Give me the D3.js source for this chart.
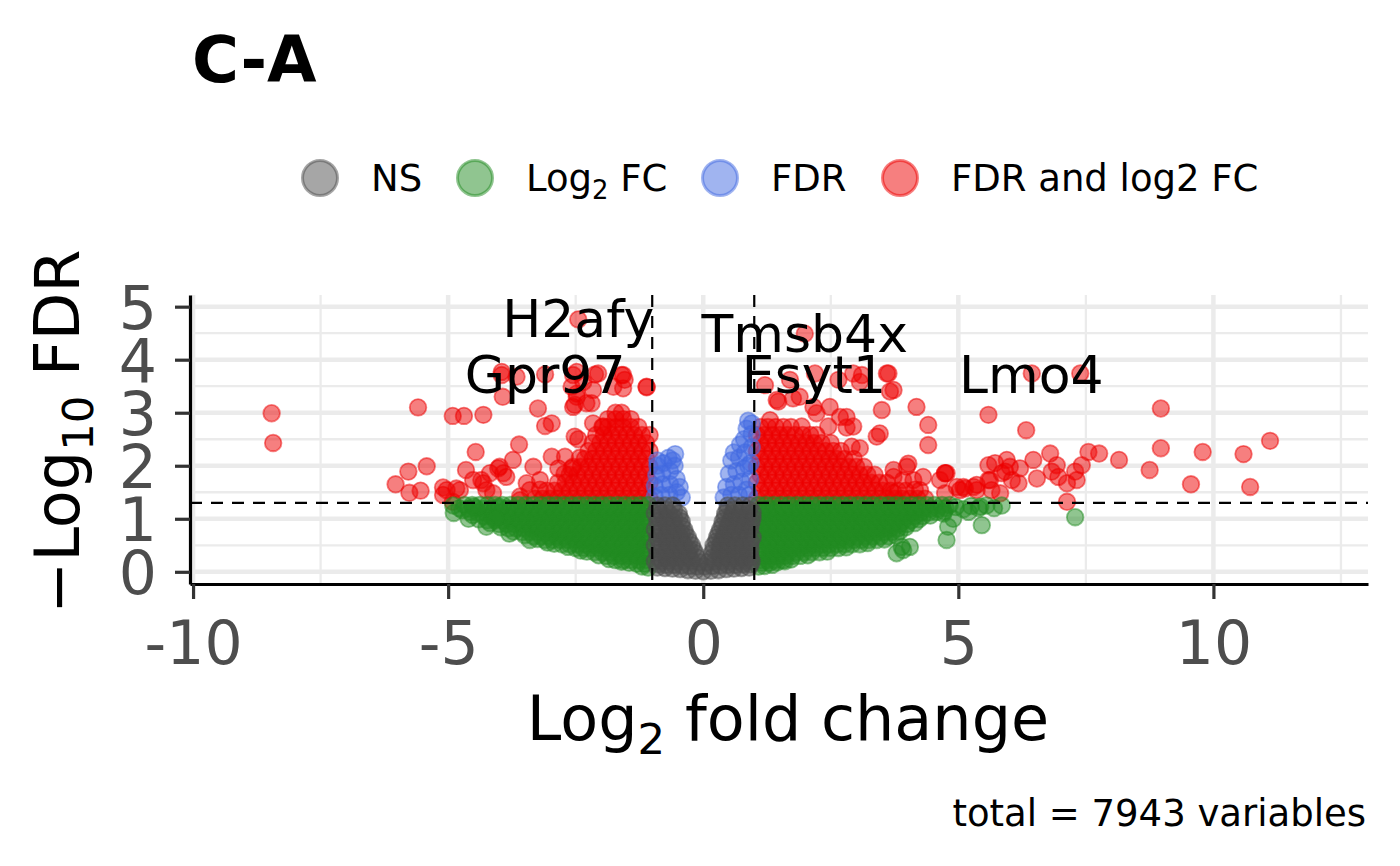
<!DOCTYPE html>
<html>
<head>
<meta charset="utf-8">
<script src="https://cdn.jsdelivr.net/npm/d3@7"></script>
<style>
  body { margin: 0; background: #fff; }
  text { font-family: "DejaVu Sans", sans-serif; }
</style>
</head>
<body>
<div id="chart"></div>
<script>
// volcano plot, C-A comparison
const width = 1400;
const height = 866;

const xTicks = [-10, -5, 0, 5, 10];
const yTicks = [0, 1, 2, 3, 4, 5];
const xMinor = [-7.5, -2.5, 2.5, 7.5, 12.5];
const yMinor = [0.5, 1.5, 2.5, 3.5, 4.5];
const fcCutoff = [-1, 1];
const fdrCutoff = 1.301;
const totalVariables = 7943;

const legendLabels = [
  [{t: "NS"}],
  [{t: "Log"}, {t: "2", sub: true}, {t: " FC"}],
  [{t: "FDR"}],
  [{t: "FDR and log2 FC"}]
];

// gene labels sit on their own points
const geneLabels = [
  {gene: "H2afy", x: -2.45, y: 4.76},
  {gene: "Gpr97", x: -3.10, y: 3.72},
  {gene: "Tmsb4x", x: 1.99, y: 4.49},
  {gene: "Esyt1", x: 2.17, y: 3.72},
  {gene: "Lmo4", x: 6.43, y: 3.72}
];

// NS : |log2FC| < 1 and FDR not significant
const nsPoints = [
  [-0.9,0.08],[-0.75,0.07],[-0.6,0.06],[-0.45,0.05],[-0.3,0.03],[-0.15,0.02],[0,0.01],[0.15,0.02],[0.3,0.03],[0.45,0.05],[0.6,0.06],[0.75,0.07],[0.9,0.08],
  [-0.87,0.14],[-0.72,0.13],[-0.57,0.13],[-0.42,0.12],[-0.27,0.11],[-0.12,0.1],[0.03,0.1],[0.18,0.11],[0.33,0.12],[0.48,0.13],[0.63,0.13],[0.78,0.14],[0.93,0.14],
  [-0.95,0.2],[-0.82,0.2],[-0.67,0.2],[-0.52,0.2],[-0.37,0.2],[-0.22,0.2],[-0.07,0.18],[0.08,0.18],[0.22,0.2],[0.37,0.2],[0.52,0.2],[0.67,0.2],[0.82,0.2],[0.95,0.2],
  [-0.87,0.27],[-0.72,0.27],[-0.57,0.27],[-0.42,0.27],[-0.27,0.27],[-0.12,0.27],[0.18,0.27],[0.33,0.27],[0.48,0.27],[0.63,0.27],[0.78,0.27],[0.93,0.27],
  [-0.9,0.35],[-0.75,0.35],[-0.6,0.35],[-0.45,0.35],[-0.3,0.35],[-0.15,0.35],[0.17,0.35],[0.3,0.35],[0.45,0.35],[0.6,0.35],[0.75,0.35],[0.9,0.35],
  [-0.87,0.42],[-0.72,0.42],[-0.57,0.42],[-0.42,0.42],[-0.27,0.42],[-0.19,0.42],[0.2,0.42],[0.33,0.42],[0.48,0.42],[0.63,0.42],[0.78,0.42],[0.93,0.42],
  [-0.95,0.5],[-0.82,0.5],[-0.67,0.5],[-0.52,0.5],[-0.37,0.5],[-0.22,0.5],[0.2,0.5],[0.33,0.5],[0.47,0.5],[0.62,0.5],[0.77,0.5],[0.92,0.5],
  [-0.87,0.57],[-0.72,0.57],[-0.57,0.57],[-0.42,0.57],[-0.27,0.57],[0.25,0.57],[0.36,0.57],[0.48,0.57],[0.63,0.57],[0.78,0.57],[0.93,0.57],
  [-0.9,0.65],[-0.75,0.65],[-0.6,0.65],[-0.45,0.65],[-0.3,0.65],[0.27,0.65],[0.4,0.65],[0.55,0.65],[0.7,0.65],[0.85,0.65],[0.97,0.65],
  [-0.87,0.72],[-0.72,0.72],[-0.57,0.72],[-0.42,0.72],[-0.35,0.72],[0.3,0.72],[0.42,0.72],[0.57,0.72],[0.72,0.72],[0.87,0.72],
  [-0.95,0.8],[-0.82,0.8],[-0.67,0.8],[-0.52,0.8],[-0.37,0.8],[0.33,0.8],[0.47,0.8],[0.62,0.8],[0.77,0.8],[0.92,0.8],
  [-0.87,0.87],[-0.72,0.87],[-0.57,0.87],[-0.42,0.87],[0.37,0.87],[0.48,0.87],[0.63,0.87],[0.78,0.87],[0.93,0.87],
  [-0.9,0.95],[-0.75,0.95],[-0.6,0.95],[-0.42,0.95],[0.38,0.95],[0.52,0.95],[0.67,0.95],[0.82,0.95],[0.95,0.95],
  [-0.87,1.02],[-0.72,1.02],[-0.57,1.02],[-0.46,1.02],[0.42,1.02],[0.55,1.02],[0.7,1.02],[0.85,1.02],[0.97,1.02],
  [-0.95,1.1],[-0.82,1.1],[-0.67,1.1],[-0.48,1.1],[0.43,1.1],[0.57,1.1],[0.72,1.1],[0.87,1.1],[0.97,1.12],
  [-0.87,1.17],[-0.72,1.17],[-0.57,1.17],[0.47,1.17],[0.6,1.17],[0.75,1.17],[0.9,1.17],
  [-0.9,1.25],[-0.75,1.25],[-0.6,1.25],[0.48,1.25],[0.62,1.25],[0.77,1.25],[0.92,1.25]
];

// Log2 FC only
const log2fcPoints = [
  // left band
  [-1.08,0.08],[-1.2,0.1],
  [-1.15,0.15],[-1.3,0.15],[-1.45,0.17],[-1.6,0.19],
  [-1.12,0.22],[-1.27,0.22],[-1.42,0.22],[-1.57,0.22],[-1.72,0.22],[-1.85,0.24],
  [-1.15,0.3],[-1.3,0.3],[-1.45,0.3],[-1.6,0.3],[-1.75,0.3],[-1.9,0.3],[-2.05,0.31],
  [-1.08,0.37],[-1.23,0.37],[-1.38,0.37],[-1.53,0.37],[-1.68,0.37],[-1.83,0.37],[-1.98,0.37],[-2.13,0.37],[-2.28,0.38],[-2.4,0.4],
  [-1.15,0.45],[-1.3,0.45],[-1.45,0.45],[-1.6,0.45],[-1.75,0.45],[-1.9,0.45],[-2.05,0.45],[-2.2,0.45],[-2.35,0.45],[-2.5,0.45],[-2.65,0.47],
  [-1.12,0.52],[-1.27,0.52],[-1.42,0.52],[-1.57,0.52],[-1.72,0.52],[-1.87,0.52],[-2.02,0.52],[-2.17,0.52],[-2.32,0.52],[-2.47,0.52],[-2.62,0.52],[-2.77,0.52],[-2.92,0.53],[-3.05,0.55],
  [-1.15,0.6],[-1.3,0.6],[-1.45,0.6],[-1.6,0.6],[-1.75,0.6],[-1.9,0.6],[-2.05,0.6],[-2.2,0.6],[-2.35,0.6],[-2.5,0.6],[-2.65,0.6],[-2.8,0.6],[-2.95,0.6],[-3.1,0.6],[-3.25,0.62],
  [-1.08,0.67],[-1.23,0.67],[-1.38,0.67],[-1.53,0.67],[-1.68,0.67],[-1.83,0.67],[-1.98,0.67],[-2.13,0.67],[-2.28,0.67],[-2.43,0.67],[-2.58,0.67],[-2.73,0.67],[-2.88,0.67],[-3.03,0.67],[-3.18,0.67],[-3.33,0.67],[-3.5,0.69],
  [-1.15,0.75],[-1.3,0.75],[-1.45,0.75],[-1.6,0.75],[-1.75,0.75],[-1.9,0.75],[-2.05,0.75],[-2.2,0.75],[-2.35,0.75],[-2.5,0.75],[-2.65,0.75],[-2.8,0.75],[-2.95,0.75],[-3.1,0.75],[-3.25,0.75],[-3.4,0.75],[-3.55,0.75],[-3.72,0.76],
  [-1.12,0.82],[-1.27,0.82],[-1.42,0.82],[-1.57,0.82],[-1.72,0.82],[-1.87,0.82],[-2.02,0.82],[-2.17,0.82],[-2.32,0.82],[-2.47,0.82],[-2.62,0.82],[-2.77,0.82],[-2.92,0.82],[-3.07,0.82],[-3.22,0.82],[-3.37,0.82],[-3.52,0.82],[-3.67,0.82],[-3.82,0.82],[-3.97,0.84],
  [-1.15,0.9],[-1.3,0.9],[-1.45,0.9],[-1.6,0.9],[-1.75,0.9],[-1.9,0.9],[-2.05,0.9],[-2.2,0.9],[-2.35,0.9],[-2.5,0.9],[-2.65,0.9],[-2.8,0.9],[-2.95,0.9],[-3.1,0.9],[-3.25,0.9],[-3.4,0.9],[-3.55,0.9],[-3.7,0.9],[-3.85,0.9],[-4.0,0.9],[-4.18,0.92],
  [-1.08,0.97],[-1.23,0.97],[-1.38,0.97],[-1.53,0.97],[-1.68,0.97],[-1.83,0.97],[-1.98,0.97],[-2.13,0.97],[-2.28,0.97],[-2.43,0.97],[-2.58,0.97],[-2.73,0.97],[-2.88,0.97],[-3.03,0.97],[-3.18,0.97],[-3.33,0.97],[-3.48,0.97],[-3.63,0.97],[-3.78,0.97],[-3.93,0.97],[-4.08,0.97],[-4.23,0.97],[-4.4,0.99],
  [-1.15,1.05],[-1.3,1.05],[-1.45,1.05],[-1.6,1.05],[-1.75,1.05],[-1.9,1.05],[-2.05,1.05],[-2.2,1.05],[-2.35,1.05],[-2.5,1.05],[-2.65,1.05],[-2.8,1.05],[-2.95,1.05],[-3.1,1.05],[-3.25,1.05],[-3.4,1.05],[-3.55,1.05],[-3.7,1.05],[-3.85,1.05],[-4.0,1.05],[-4.15,1.05],[-4.3,1.05],[-4.52,1.07],
  [-1.12,1.12],[-1.27,1.12],[-1.42,1.12],[-1.57,1.12],[-1.72,1.12],[-1.87,1.12],[-2.02,1.12],[-2.17,1.12],[-2.32,1.12],[-2.47,1.12],[-2.62,1.12],[-2.77,1.12],[-2.92,1.12],[-3.07,1.12],[-3.22,1.12],[-3.37,1.12],[-3.52,1.12],[-3.67,1.12],[-3.82,1.12],[-3.97,1.12],[-4.12,1.12],[-4.27,1.12],[-4.42,1.12],[-4.57,1.13],[-4.72,1.16],
  [-1.15,1.19],[-1.3,1.19],[-1.45,1.19],[-1.6,1.19],[-1.75,1.19],[-1.9,1.19],[-2.05,1.19],[-2.2,1.19],[-2.35,1.19],[-2.5,1.19],[-2.65,1.19],[-2.8,1.19],[-2.95,1.19],[-3.1,1.19],[-3.25,1.19],[-3.4,1.19],[-3.55,1.19],[-3.7,1.19],[-3.85,1.19],[-4.0,1.19],[-4.15,1.19],[-4.3,1.19],[-4.45,1.19],[-4.6,1.19],[-4.78,1.2],
  [-1.08,1.26],[-1.23,1.26],[-1.38,1.26],[-1.53,1.26],[-1.68,1.26],[-1.83,1.26],[-1.98,1.26],[-2.13,1.26],[-2.28,1.26],[-2.43,1.26],[-2.58,1.26],[-2.73,1.26],[-2.88,1.26],[-3.03,1.26],[-3.18,1.26],[-3.33,1.26],[-3.48,1.26],[-3.63,1.26],[-3.78,1.26],[-3.93,1.26],[-4.08,1.26],[-4.23,1.26],[-4.38,1.26],[-4.53,1.26],[-4.68,1.26],
  [-4.89,1.11],[-4.9,1.25],[-4.5,1.23],[-4.0,1.23],[-4.08,1.01],[-4.25,0.85],[-3.8,0.72],[-3.4,0.6],[-4.6,1.0],
  // right band
  [1.08,0.1],[1.2,0.11],[1.35,0.13],
  [1.15,0.17],[1.3,0.17],[1.45,0.18],[1.6,0.2],
  [1.12,0.22],[1.27,0.22],[1.42,0.22],[1.57,0.22],[1.72,0.23],
  [1.15,0.3],[1.3,0.3],[1.45,0.3],[1.6,0.3],[1.75,0.3],[1.9,0.3],[2.05,0.31],
  [1.08,0.37],[1.23,0.37],[1.38,0.37],[1.53,0.37],[1.68,0.37],[1.83,0.37],[1.98,0.37],[2.13,0.37],[2.28,0.37],[2.43,0.38],
  [1.15,0.45],[1.3,0.45],[1.45,0.45],[1.6,0.45],[1.75,0.45],[1.9,0.45],[2.05,0.45],[2.2,0.45],[2.35,0.45],[2.5,0.45],[2.65,0.45],[2.8,0.46],
  [1.12,0.52],[1.27,0.52],[1.42,0.52],[1.57,0.52],[1.72,0.52],[1.87,0.52],[2.02,0.52],[2.17,0.52],[2.32,0.52],[2.47,0.52],[2.62,0.52],[2.77,0.52],[2.92,0.52],[3.07,0.52],[3.22,0.54],
  [1.15,0.6],[1.3,0.6],[1.45,0.6],[1.6,0.6],[1.75,0.6],[1.9,0.6],[2.05,0.6],[2.2,0.6],[2.35,0.6],[2.5,0.6],[2.65,0.6],[2.8,0.6],[2.95,0.6],[3.1,0.6],[3.25,0.6],[3.4,0.6],[3.55,0.61],
  [1.08,0.67],[1.23,0.67],[1.38,0.67],[1.53,0.67],[1.68,0.67],[1.83,0.67],[1.98,0.67],[2.13,0.67],[2.28,0.67],[2.43,0.67],[2.58,0.67],[2.73,0.67],[2.88,0.67],[3.03,0.67],[3.18,0.67],[3.33,0.67],[3.48,0.67],[3.63,0.67],[3.78,0.68],
  [1.15,0.75],[1.3,0.75],[1.45,0.75],[1.6,0.75],[1.75,0.75],[1.9,0.75],[2.05,0.75],[2.2,0.75],[2.35,0.75],[2.5,0.75],[2.65,0.75],[2.8,0.75],[2.95,0.75],[3.1,0.75],[3.25,0.75],[3.4,0.75],[3.55,0.75],[3.7,0.75],[3.85,0.76],
  [1.12,0.82],[1.27,0.82],[1.42,0.82],[1.57,0.82],[1.72,0.82],[1.87,0.82],[2.02,0.82],[2.17,0.82],[2.32,0.82],[2.47,0.82],[2.62,0.82],[2.77,0.82],[2.92,0.82],[3.07,0.82],[3.22,0.82],[3.37,0.82],[3.52,0.82],[3.67,0.82],[3.82,0.82],[3.97,0.84],
  [1.15,0.9],[1.3,0.9],[1.45,0.9],[1.6,0.9],[1.75,0.9],[1.9,0.9],[2.05,0.9],[2.2,0.9],[2.35,0.9],[2.5,0.9],[2.65,0.9],[2.8,0.9],[2.95,0.9],[3.1,0.9],[3.25,0.9],[3.4,0.9],[3.55,0.9],[3.7,0.9],[3.85,0.9],[4.0,0.9],[4.15,0.92],
  [1.08,0.97],[1.23,0.97],[1.38,0.97],[1.53,0.97],[1.68,0.97],[1.83,0.97],[1.98,0.97],[2.13,0.97],[2.28,0.97],[2.43,0.97],[2.58,0.97],[2.73,0.97],[2.88,0.97],[3.03,0.97],[3.18,0.97],[3.33,0.97],[3.48,0.97],[3.63,0.97],[3.78,0.97],[3.93,0.97],[4.08,0.97],[4.23,0.99],
  [1.15,1.05],[1.3,1.05],[1.45,1.05],[1.6,1.05],[1.75,1.05],[1.9,1.05],[2.05,1.05],[2.2,1.05],[2.35,1.05],[2.5,1.05],[2.65,1.05],[2.8,1.05],[2.95,1.05],[3.1,1.05],[3.25,1.05],[3.4,1.05],[3.55,1.05],[3.7,1.05],[3.85,1.05],[4.0,1.05],[4.15,1.05],[4.3,1.05],[4.45,1.06],
  [1.12,1.12],[1.27,1.12],[1.42,1.12],[1.57,1.12],[1.72,1.12],[1.87,1.12],[2.02,1.12],[2.17,1.12],[2.32,1.12],[2.47,1.12],[2.62,1.12],[2.77,1.12],[2.92,1.12],[3.07,1.12],[3.22,1.12],[3.37,1.12],[3.52,1.12],[3.67,1.12],[3.82,1.12],[3.97,1.12],[4.12,1.12],[4.27,1.12],[4.42,1.12],[4.57,1.13],[4.72,1.14],
  [1.15,1.19],[1.3,1.19],[1.45,1.19],[1.6,1.19],[1.75,1.19],[1.9,1.19],[2.05,1.19],[2.2,1.19],[2.35,1.19],[2.5,1.19],[2.65,1.19],[2.8,1.19],[2.95,1.19],[3.1,1.19],[3.25,1.19],[3.4,1.19],[3.55,1.19],[3.7,1.19],[3.85,1.19],[4.0,1.19],[4.15,1.19],[4.3,1.19],[4.45,1.19],[4.6,1.19],[4.75,1.2],
  [1.08,1.26],[1.23,1.26],[1.38,1.26],[1.53,1.26],[1.68,1.26],[1.83,1.26],[1.98,1.26],[2.13,1.26],[2.28,1.26],[2.43,1.26],[2.58,1.26],[2.73,1.26],[2.88,1.26],[3.03,1.26],[3.18,1.26],[3.33,1.26],[3.48,1.26],[3.63,1.26],[3.78,1.26],[3.93,1.26],[4.08,1.26],[4.23,1.26],[4.38,1.26],[4.53,1.26],[4.68,1.26],[4.83,1.26],
  [4.95,1.22],[5.1,1.18],[5.25,1.24],[5.4,1.2],[5.55,1.25],[5.7,1.2],[5.2,1.13],[5.46,0.88],[4.8,0.85],[4.77,0.6],[3.89,0.47],[4.05,0.47],[3.79,0.35],[3.92,0.41],
  [7.29,1.03],[4.71,1.1],[4.9,1.0],[5.85,1.25],[5.43,1.23]
];

// FDR only
const fdrPoints = [
  [-0.95,1.42],[-0.95,1.62],[-0.92,1.82],[-0.9,2.0],[-0.82,1.45],[-0.8,1.65],[-0.8,1.85],[-0.78,2.05],[-0.68,2.15],[-0.66,1.45],
  [-0.65,1.65],[-0.65,1.9],[-0.55,2.22],[-0.56,2.0],[-0.52,1.75],[-0.52,1.5],[-0.46,1.6],[-0.42,1.4],[-0.6,2.1],[-0.9,2.1],
  [0.4,1.4],[0.45,1.6],[0.5,1.85],[0.55,2.1],[0.6,2.25],[0.55,1.45],[0.6,1.65],[0.65,1.9],[0.7,2.15],[0.72,2.4],
  [0.7,1.45],[0.75,1.7],[0.8,1.95],[0.82,2.25],[0.8,2.5],[0.85,2.7],[0.88,2.85],[0.95,2.8],[0.9,1.45],[0.92,1.75],
  [0.93,2.05],[0.95,2.35],[0.95,2.6],[0.85,1.55],[0.88,2.0]
];

// FDR and log2 FC
const bothPoints = [
  // left dense cluster
  [-1.05,1.38],[-1.2,1.38],[-1.35,1.38],[-1.5,1.38],[-1.65,1.38],[-1.8,1.38],[-1.95,1.38],[-2.1,1.38],[-2.25,1.38],[-2.4,1.38],[-2.55,1.38],[-2.7,1.38],[-2.85,1.38],[-3.0,1.38],[-3.15,1.38],[-3.3,1.38],
  [-1.12,1.53],[-1.27,1.53],[-1.42,1.53],[-1.57,1.53],[-1.72,1.53],[-1.87,1.53],[-2.02,1.53],[-2.17,1.53],[-2.32,1.53],[-2.47,1.53],[-2.62,1.53],[-2.77,1.53],[-2.92,1.53],[-3.07,1.53],[-3.2,1.55],
  [-1.05,1.68],[-1.2,1.68],[-1.35,1.68],[-1.5,1.68],[-1.65,1.68],[-1.8,1.68],[-1.95,1.68],[-2.1,1.68],[-2.25,1.68],[-2.4,1.68],[-2.55,1.68],[-2.7,1.68],[-2.85,1.68],
  [-1.12,1.83],[-1.27,1.83],[-1.42,1.83],[-1.57,1.83],[-1.72,1.83],[-1.87,1.83],[-2.02,1.83],[-2.17,1.83],[-2.32,1.83],[-2.47,1.83],[-2.62,1.83],[-2.72,1.85],
  [-1.05,1.98],[-1.2,1.98],[-1.35,1.98],[-1.5,1.98],[-1.65,1.98],[-1.8,1.98],[-1.95,1.98],[-2.1,1.98],[-2.25,1.98],[-2.4,1.98],[-2.55,1.98],
  [-1.12,2.13],[-1.27,2.13],[-1.42,2.13],[-1.57,2.13],[-1.72,2.13],[-1.87,2.13],[-2.02,2.13],[-2.17,2.13],[-2.32,2.13],[-2.42,2.15],
  [-1.05,2.28],[-1.2,2.28],[-1.35,2.28],[-1.5,2.28],[-1.65,2.28],[-1.8,2.28],[-1.95,2.28],[-2.1,2.28],[-2.25,2.28],
  [-1.12,2.43],[-1.27,2.43],[-1.42,2.43],[-1.57,2.43],[-1.72,2.43],[-1.87,2.43],[-2.02,2.43],[-2.17,2.43],
  [-1.05,2.58],[-1.2,2.58],[-1.35,2.58],[-1.5,2.58],[-1.65,2.58],[-1.8,2.58],[-1.95,2.58],[-2.1,2.58],
  [-1.27,2.73],[-1.42,2.73],[-1.57,2.73],[-1.72,2.73],[-1.87,2.73],[-1.98,2.73],
  [-1.42,2.88],[-1.57,2.88],[-1.72,2.88],[-1.87,2.88],
  [-1.6,3.0],[-1.72,3.0],
  // left scattered
  [-8.46,2.99],[-8.43,2.43],[-5.59,3.10],[-4.91,2.94],[-4.69,2.94],[-4.31,2.96],[-4.46,2.26],[-3.61,2.40],[-3.73,2.11],[-3.24,3.08],
  [-3.10,2.75],[-2.97,2.80],[-2.52,2.55],[-2.45,4.76],[-3.95,3.77],[-3.66,3.68],[-3.10,3.72],[-2.48,3.77],[-2.12,3.72],[-1.57,3.71],
  [-1.54,3.62],[-1.57,3.46],[-1.11,3.48],[-3.93,3.30],[-2.52,3.15],[-2.19,3.18],[-2.58,3.49],[-2.48,3.36],
  [-6.03,1.65],[-5.78,1.89],[-5.42,1.99],[-5.76,1.49],[-5.54,1.53],[-5.10,1.59],[-5.10,1.45],[-4.91,1.32],[-4.65,1.92],[-4.84,1.57],
  [-4.35,1.73],[-4.25,1.54],[-4.12,1.48],[-4.02,1.95],[-3.92,1.86],[-3.33,1.98],[-2.97,2.17],[-2.71,2.17],[-2.58,1.95],[-3.46,1.67],
  [-3.59,1.35],[-2.84,1.95],[-3.99,1.98],[-3.86,1.79],[-4.18,1.86],[-4.31,1.67],[-4.51,1.73],[-4.77,1.54],[-5.03,1.54],[-3.20,1.73],
  [-3.40,1.54],[-3.59,1.42],[-2.55,3.11],[-2.29,3.18],[-2.48,3.30],[-2.16,3.43],[-1.76,3.49],[-1.60,3.71],[-1.11,3.49],[-3.95,3.71],
  [-2.55,3.71],[-2.06,3.74],[-2.35,3.58],[-2.16,2.80],[-1.96,2.74],[-2.45,2.50],
  // right dense cluster
  [1.05,1.38],[1.2,1.38],[1.35,1.38],[1.5,1.38],[1.65,1.38],[1.8,1.38],[1.95,1.38],[2.1,1.38],[2.25,1.38],[2.4,1.38],[2.55,1.38],[2.7,1.38],[2.85,1.38],[3.0,1.38],[3.15,1.38],[3.3,1.38],[3.45,1.38],[3.6,1.38],[3.75,1.38],[3.9,1.38],[4.05,1.38],[4.2,1.38],[4.35,1.38],
  [1.12,1.53],[1.27,1.53],[1.42,1.53],[1.57,1.53],[1.72,1.53],[1.87,1.53],[2.02,1.53],[2.17,1.53],[2.32,1.53],[2.47,1.53],[2.62,1.53],[2.77,1.53],[2.92,1.53],[3.07,1.53],[3.22,1.53],[3.37,1.53],[3.52,1.53],[3.67,1.53],[3.82,1.53],[3.97,1.53],[4.15,1.55],
  [1.05,1.68],[1.2,1.68],[1.35,1.68],[1.5,1.68],[1.65,1.68],[1.8,1.68],[1.95,1.68],[2.1,1.68],[2.25,1.68],[2.4,1.68],[2.55,1.68],[2.7,1.68],[2.85,1.68],[3.0,1.68],[3.15,1.68],[3.3,1.68],[3.45,1.68],[3.6,1.68],
  [1.12,1.83],[1.27,1.83],[1.42,1.83],[1.57,1.83],[1.72,1.83],[1.87,1.83],[2.02,1.83],[2.17,1.83],[2.32,1.83],[2.47,1.83],[2.62,1.83],[2.77,1.83],[2.92,1.83],[3.07,1.83],[3.22,1.83],[3.36,1.83],
  [1.05,1.98],[1.2,1.98],[1.35,1.98],[1.5,1.98],[1.65,1.98],[1.8,1.98],[1.95,1.98],[2.1,1.98],[2.25,1.98],[2.4,1.98],[2.55,1.98],[2.7,1.98],[2.85,1.98],[3.0,1.98],[3.15,1.98],
  [1.12,2.13],[1.27,2.13],[1.42,2.13],[1.57,2.13],[1.72,2.13],[1.87,2.13],[2.02,2.13],[2.17,2.13],[2.32,2.13],[2.47,2.13],[2.62,2.13],[2.77,2.13],[2.95,2.13],
  [1.05,2.28],[1.2,2.28],[1.35,2.28],[1.5,2.28],[1.65,2.28],[1.8,2.28],[1.95,2.28],[2.1,2.28],[2.25,2.28],[2.4,2.28],[2.55,2.28],[2.7,2.28],
  [1.12,2.43],[1.27,2.43],[1.42,2.43],[1.57,2.43],[1.72,2.43],[1.87,2.43],[2.02,2.43],[2.17,2.43],[2.32,2.43],[2.5,2.43],
  [1.05,2.58],[1.2,2.58],[1.35,2.58],[1.5,2.58],[1.65,2.58],[1.8,2.58],[1.95,2.58],[2.1,2.58],[2.22,2.58],
  [1.12,2.73],[1.27,2.73],[1.42,2.73],[1.57,2.73],[1.72,2.73],
  // right scattered
  [1.99,4.49],[1.21,3.52],[1.47,3.21],[1.76,3.27],[2.19,3.74],[2.65,3.62],[2.94,3.74],[3.11,3.71],[3.07,3.58],[3.60,3.74],
  [3.66,3.40],[3.50,3.05],[3.46,2.61],[3.40,2.55],[4.18,3.11],[4.41,2.77],[4.41,2.39],[2.48,3.11],[2.22,2.99],[2.81,2.92],
  [2.94,2.74],[1.31,2.86],[1.93,2.74],[2.45,2.74],[2.91,2.36],[3.07,2.33],[3.73,1.92],[4.02,2.04],[4.74,1.86],[5.10,1.60],
  [5.30,1.60],[1.70,3.62],[1.89,3.30],[2.16,3.11],[2.68,2.92],[2.81,2.72],[3.63,3.74],[3.73,3.43],[1.44,3.24],
  [6.44,3.74],[7.39,3.74],[5.59,2.96],[6.33,2.67],[8.97,3.08],[8.97,2.33],[11.11,2.47],[9.79,2.26],[10.59,2.22],[10.72,1.60],
  [9.56,1.65],[8.75,1.92],[8.15,2.11],[7.76,2.23],[7.55,2.26],[7.42,2.01],[7.29,1.89],[7.32,1.73],[7.13,1.67],[7.13,1.32],
  [6.93,2.01],[6.80,2.23],[6.83,1.89],[6.96,1.79],[6.47,2.11],[6.54,1.76],[6.21,1.95],[6.18,1.67],[5.95,2.11],[5.92,1.89],
  [6.05,1.73],[5.72,2.05],[5.62,1.73],[5.59,2.01],[5.82,1.48],[5.65,1.54],[5.36,1.54],[5.13,1.57],[5.03,1.54],[4.77,1.86],
  [4.74,1.48],[3.73,1.79],[3.92,1.73],[4.12,1.73],[4.31,1.79],[4.64,1.73],[4.97,1.60],[5.36,1.64],[5.59,1.73],[5.85,1.86],
  [6.01,1.98],[3.99,1.98],[3.73,1.48],[4.25,1.54],[4.74,1.86]
];

const groups = [
  {name: "FDR and log2 FC", color: "#EE0000", points: bothPoints},
  {name: "FDR", color: "#4169E1", points: fdrPoints},
  {name: "Log2 FC", color: "#228B22", points: log2fcPoints},
  {name: "NS", color: "#4D4D4D", points: nsPoints}
];
const legendColors = ["#4D4D4D", "#228B22", "#4169E1", "#EE0000"];

// layout
const plotLeft = 190, plotRight = 1368, plotTop = 295, plotBottom = 584;

const svg = d3.select("#chart")
  .append("svg")
  .attr("width", width)
  .attr("height", height)
  .style("background", "#fff");

const x = d3.scaleLinear().domain([-10.06, 13.03]).range([plotLeft, plotRight]);
const y = d3.scaleLinear().domain([-0.23, 5.22]).range([plotBottom, plotTop]);

// subscript helper
function richText(sel, parts, size) {
  let shift = 0;
  parts.forEach(p => {
    const t = sel.append("tspan").text(p.t);
    if (p.sub) {
      t.attr("font-size", size * 0.7).attr("dy", size * 0.22);
      shift = size * 0.22;
    } else if (shift) {
      t.attr("dy", -shift);
      shift = 0;
    }
  });
}

// grid
const grid = svg.append("g");
grid.selectAll(".vminor").data(xMinor).enter().append("line")
  .attr("x1", d => x(d)).attr("x2", d => x(d))
  .attr("y1", plotTop).attr("y2", plotBottom)
  .attr("stroke", "#EBEBEB").attr("stroke-width", 2.3);
grid.selectAll(".hminor").data(yMinor).enter().append("line")
  .attr("y1", d => y(d)).attr("y2", d => y(d))
  .attr("x1", plotLeft).attr("x2", plotRight)
  .attr("stroke", "#EBEBEB").attr("stroke-width", 2.3);
grid.selectAll(".vmajor").data(xTicks).enter().append("line")
  .attr("x1", d => x(d)).attr("x2", d => x(d))
  .attr("y1", plotTop).attr("y2", plotBottom)
  .attr("stroke", "#EBEBEB").attr("stroke-width", 4.5);
grid.selectAll(".hmajor").data(yTicks).enter().append("line")
  .attr("y1", d => y(d)).attr("y2", d => y(d))
  .attr("x1", plotLeft).attr("x2", plotRight)
  .attr("stroke", "#EBEBEB").attr("stroke-width", 4.5);

// points
groups.forEach(g => {
  svg.append("g").selectAll("circle")
    .data(g.points)
    .enter()
    .append("circle")
    .attr("cx", d => x(d[0]))
    .attr("cy", d => y(d[1]))
    .attr("r", 8.3)
    .attr("fill", g.color)
    .attr("fill-opacity", 0.5)
    .attr("stroke", g.color)
    .attr("stroke-opacity", 0.5)
    .attr("stroke-width", 1.8);
});

// cutoff lines
svg.selectAll(".fcline").data(fcCutoff).enter().append("line")
  .attr("x1", d => x(d)).attr("x2", d => x(d))
  .attr("y1", plotTop).attr("y2", plotBottom)
  .attr("stroke", "#000").attr("stroke-width", 2.2)
  .attr("stroke-dasharray", "12,9");
svg.append("line")
  .attr("x1", plotLeft).attr("x2", plotRight)
  .attr("y1", y(fdrCutoff)).attr("y2", y(fdrCutoff))
  .attr("stroke", "#000").attr("stroke-width", 2.2)
  .attr("stroke-dasharray", "12,9");

// gene labels
svg.selectAll(".gene").data(geneLabels).enter().append("text")
  .attr("x", d => x(d.x))
  .attr("y", d => y(d.y))
  .attr("text-anchor", "middle")
  .attr("dominant-baseline", "central")
  .attr("font-size", 52)
  .attr("fill", "#000")
  .text(d => d.gene);

// axes
const xAxis = svg.append("g")
  .attr("transform", `translate(0,${plotBottom})`)
  .call(d3.axisBottom(x).tickValues(xTicks).tickFormat(d => String(d))
    .tickSize(15).tickSizeOuter(0).tickPadding(22));
const yAxis = svg.append("g")
  .attr("transform", `translate(${plotLeft},0)`)
  .call(d3.axisLeft(y).tickValues(yTicks).tickFormat(d => String(d))
    .tickSize(15).tickSizeOuter(0).tickPadding(18));

[xAxis, yAxis].forEach(a => {
  a.select(".domain").attr("stroke", "#000").attr("stroke-width", 3.2);
  a.selectAll(".tick line").attr("stroke", "#333").attr("stroke-width", 3.2);
  a.selectAll(".tick text")
    .attr("fill", "#4D4D4D")
    .attr("font-size", 60)
    .attr("font-family", "DejaVu Sans");
});
yAxis.selectAll(".tick text").attr("dy", "0.36em");

// axis titles
const xTitle = svg.append("text")
  .attr("x", (plotLeft + plotRight) / 2 + 9)
  .attr("y", 740)
  .attr("text-anchor", "middle")
  .attr("font-size", 62)
  .attr("fill", "#000");
richText(xTitle, [{t: "Log"}, {t: "2", sub: true}, {t: " fold change"}], 62);

const yTitle = svg.append("text")
  .attr("transform", `translate(79,${(plotTop + plotBottom) / 2 - 8}) rotate(-90)`)
  .attr("text-anchor", "middle")
  .attr("font-size", 62)
  .attr("fill", "#000");
richText(yTitle, [{t: "\u2212Log"}, {t: "10", sub: true}, {t: " FDR"}], 62);

// title
svg.append("text")
  .attr("x", 192)
  .attr("y", 82)
  .attr("font-size", 64)
  .attr("font-weight", "bold")
  .attr("fill", "#000")
  .text("C-A");

// legend
const legendX = [320, 475, 720, 900];
const legend = svg.append("g");
legendLabels.forEach((parts, i) => {
  legend.append("circle")
    .attr("cx", legendX[i]).attr("cy", 178).attr("r", 17.5)
    .attr("fill", legendColors[i]).attr("fill-opacity", 0.5)
    .attr("stroke", legendColors[i]).attr("stroke-opacity", 0.5)
    .attr("stroke-width", 3);
  const t = legend.append("text")
    .attr("x", legendX[i] + 51)
    .attr("y", 191)
    .attr("font-size", 37)
    .attr("fill", "#000");
  richText(t, parts, 37);
});

// caption
svg.append("text")
  .attr("x", 1366)
  .attr("y", 826)
  .attr("text-anchor", "end")
  .attr("font-size", 37)
  .attr("fill", "#000")
  .text(`total = ${totalVariables} variables`);
</script>
</body>
</html>
